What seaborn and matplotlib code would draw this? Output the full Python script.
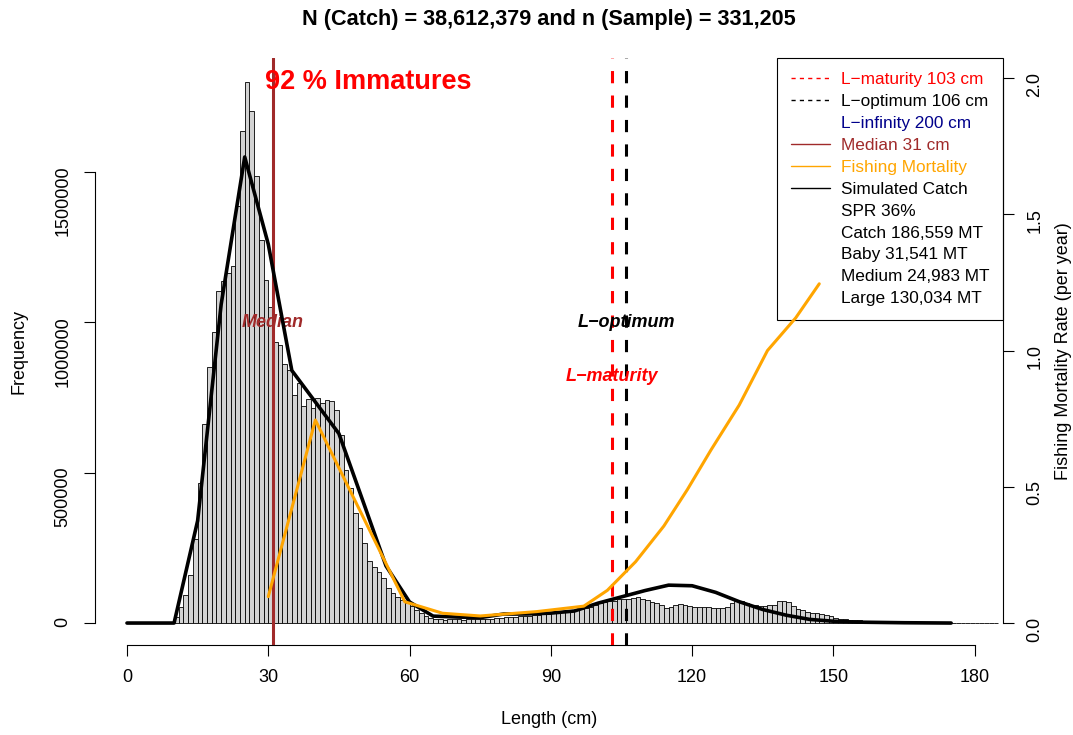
import numpy as np
import pandas as pd
import matplotlib
matplotlib.use("Agg")
import matplotlib.pyplot as plt
from matplotlib.lines import Line2D
import seaborn as sns

# length-frequency histogram, 1 cm bins starting at 0 cm (values in millions)
bin_start = np.arange(0, 185)
freq_m = [
    0, 0, 0, 0, 0, 0, 0, 0, 0, 0,
    0.020, 0.053, 0.093, 0.159, 0.280, 0.465, 0.661, 0.853, 0.969, 1.105,
    1.139, 1.165, 1.187, 1.387, 1.636, 1.800, 1.704, 1.487, 1.274, 1.140,
    1.052, 0.936, 0.925, 0.860, 0.842, 0.760, 0.797, 0.722, 0.744, 0.714,
    0.747, 0.733, 0.741, 0.739, 0.708, 0.625, 0.509, 0.448, 0.367, 0.317,
    0.265, 0.206, 0.187, 0.171, 0.149, 0.116, 0.099, 0.088, 0.075, 0.066,
    0.058, 0.044, 0.033, 0.022, 0.017, 0.014, 0.012, 0.011, 0.012, 0.013,
    0.012, 0.011, 0.012, 0.013, 0.012, 0.013, 0.013, 0.014, 0.016, 0.017,
    0.019, 0.020, 0.021, 0.022, 0.023, 0.024, 0.026, 0.027, 0.029, 0.030,
    0.032, 0.034, 0.036, 0.038, 0.040, 0.043, 0.046, 0.050, 0.054, 0.059,
    0.065, 0.069, 0.073, 0.074, 0.079, 0.081, 0.079, 0.083, 0.086, 0.081,
    0.077, 0.070, 0.066, 0.059, 0.050, 0.054, 0.059, 0.062, 0.061, 0.057,
    0.054, 0.054, 0.052, 0.054, 0.050, 0.050, 0.050, 0.052, 0.068, 0.072,
    0.072, 0.068, 0.061, 0.059, 0.057, 0.057, 0.061, 0.059, 0.072, 0.072,
    0.070, 0.057, 0.048, 0.042, 0.036, 0.032, 0.032, 0.030, 0.028, 0.023,
    0.017, 0.015, 0.012, 0.011, 0.010, 0.009, 0.008, 0.007, 0.006, 0.005,
    0.004, 0.004, 0.003, 0.003, 0.002, 0.002, 0.0015, 0.0012, 0.001, 0.001,
    0.0008, 0.0008, 0.0006, 0.0005, 0.0004, 0, 0, 0, 0, 0,
    0, 0, 0, 0, 0,
]

# simulated catch (millions)
sim_len = [0, 5, 10, 15, 20, 25, 30, 35, 40, 45, 50, 55, 60, 65, 70, 75, 80, 85,
           90, 95, 100, 105, 110, 115, 120, 125, 130, 135, 140, 145, 150, 155,
           160, 165, 170, 175]
sim_catch_m = [0, 0, 0, 0.34, 1.06, 1.55, 1.26, 0.84, 0.735, 0.63, 0.41, 0.19,
               0.07, 0.023, 0.02, 0.018, 0.03, 0.03, 0.033, 0.04, 0.066, 0.087,
               0.108, 0.126, 0.124, 0.102, 0.071, 0.045, 0.026, 0.012, 0.006,
               0.003, 0.002, 0.001, 0.0005, 0]

# fishing mortality (per year)
f_len = [30, 40, 59, 67, 75, 87, 97, 102, 108, 114, 119, 124, 130, 136, 142, 147]
f_rate = [0.097, 0.745, 0.078, 0.036, 0.026, 0.042, 0.062, 0.12, 0.225, 0.356,
          0.49, 0.635, 0.80, 1.0, 1.12, 1.245]

l_mat, l_opt, l_inf, l_med = 103, 106, 200, 31

legend_labels = ["L\u2212maturity 103 cm", "L\u2212optimum 106 cm",
                 "L\u2212infinity 200 cm", "Median 31 cm", "Fishing Mortality",
                 "Simulated Catch", "SPR 36%", "Catch 186,559 MT",
                 "Baby 31,541 MT", "Medium 24,983 MT", "Large 130,034 MT"]
brown = "#A02A2A"
legend_colors = ["red", "black", "#00008B", brown, "orange", "black",
                 "black", "black", "black", "black", "black"]

title = "N (Catch) = 38,612,379 and n (Sample) = 331,205"

sns.set_theme(style="white")
plt.rcParams["font.family"] = ["Liberation Sans", "DejaVu Sans"]
plt.rcParams.update({"text.color": "black", "axes.labelcolor": "black",
                     "xtick.color": "black", "ytick.color": "black"})

hist_df = pd.DataFrame({"length": bin_start + 0.5,
                        "freq": np.array(freq_m) * 1e6})
sim_df = pd.DataFrame({"length": sim_len,
                       "catch": np.array(sim_catch_m) * 1e6})
f_df = pd.DataFrame({"length": f_len, "F": f_rate})

fig = plt.figure(figsize=(10.73, 7.35), dpi=100)
ax = fig.add_axes([0.0885, 0.1224, 0.8462, 0.7986])

sns.histplot(data=hist_df, x="length", weights="freq", binwidth=1,
             binrange=(0, 185), color="#D3D3D3", edgecolor="black",
             linewidth=0.6, alpha=1, ax=ax, zorder=1)
sns.lineplot(data=sim_df, x="length", y="catch", color="black", lw=2.6,
             ax=ax, zorder=4)

ax.axvline(l_med, color=brown, lw=2.2, zorder=3)
ax.axvline(l_mat, color="red", lw=2.2, ls=(0, (4, 4)), zorder=3)
ax.axvline(l_opt, color="black", lw=2.2, ls=(0, (4, 4)), zorder=3)

ax.text(29.3, 1.80e6, "92 % Immatures", color="red", fontsize=19.5,
        fontweight="bold", ha="left", va="center")
ax.text(l_med, 1.0e6, "Median", color=brown, fontsize=13,
        fontweight="bold", fontstyle="italic", ha="center", va="center")
ax.text(l_opt, 1.0e6, "L\u2212optimum", color="black", fontsize=13,
        fontweight="bold", fontstyle="italic", ha="center", va="center")
ax.text(l_mat, 0.82e6, "L\u2212maturity", color="red", fontsize=13,
        fontweight="bold", fontstyle="italic", ha="center", va="center")

ax.set_xlim(-6.8, 186)
ax.set_ylim(-73170, 1879000)
ax.set_xticks([0, 30, 60, 90, 120, 150, 180])
ax.set_yticks([0, 500000, 1000000, 1500000])
ax.set_yticklabels(["0", "500000", "1000000", "1500000"])
ax.tick_params(axis="both", labelsize=13, length=8, width=0.8, color="black",
               labelcolor="black", direction="out", left=True, bottom=True)
ax.tick_params(axis="x", pad=9)
ax.tick_params(axis="y", labelrotation=90, pad=9)
for s in ["top", "right"]:
    ax.spines[s].set_visible(False)
ax.spines["left"].set_bounds(0, 1500000)
ax.spines["bottom"].set_bounds(0, 180)
for s in ["left", "bottom"]:
    ax.spines[s].set_color("black")
    ax.spines[s].set_linewidth(0.8)

ax.set_xlabel("Length (cm)", fontsize=13, color="black")
ax.set_ylabel("Frequency", fontsize=13, color="black")
ax.xaxis.set_label_coords(0.5, -0.112)
ax.yaxis.set_label_coords(-0.074, 0.5)
ax.set_title(title, fontsize=15.6, fontweight="bold", pad=24, color="black")

ax2 = ax.twinx()
ax2.set_ylim(-0.0807, 2.0734)
ax2.set_yticks([0, 0.5, 1.0, 1.5, 2.0])
ax2.set_yticklabels(["0.0", "0.5", "1.0", "1.5", "2.0"])
ax2.tick_params(axis="y", labelsize=13, length=8, width=0.8, color="black",
                labelcolor="black", direction="out", right=True,
                labelrotation=90, pad=9)
for s in ["top", "left", "bottom"]:
    ax2.spines[s].set_visible(False)
ax2.spines["right"].set_bounds(0, 2.0)
ax2.spines["right"].set_color("black")
ax2.spines["right"].set_linewidth(0.8)
ax2.set_ylabel("Fishing Mortality Rate (per year)", fontsize=13,
               color="black")
ax2.yaxis.set_label_coords(1.057, 0.5)

handles = [
    Line2D([], [], color="red", lw=1, ls=(0, (3, 3))),
    Line2D([], [], color="black", lw=1, ls=(0, (3, 3))),
    Line2D([], [], color="none"),
    Line2D([], [], color=brown, lw=1),
    Line2D([], [], color="orange", lw=1),
    Line2D([], [], color="black", lw=1),
] + [Line2D([], [], color="none") for _ in range(5)]
leg = ax2.legend(handles, legend_labels, loc="upper right",
                 bbox_to_anchor=(1, 1), borderaxespad=0, fontsize=12.4,
                 labelcolor=legend_colors, frameon=True, fancybox=False,
                 framealpha=1, edgecolor="black", handlelength=2.3,
                 handletextpad=0.6, labelspacing=0.4, borderpad=0.8)
leg.get_frame().set_linewidth(0.8)
leg.set_zorder(2)

# fishing mortality drawn after the legend, so it runs over the box as in R
sns.lineplot(data=f_df, x="length", y="F", color="orange", lw=2.2, ax=ax2,
             zorder=5, legend=False)

plt.savefig("out.png", dpi=100)
